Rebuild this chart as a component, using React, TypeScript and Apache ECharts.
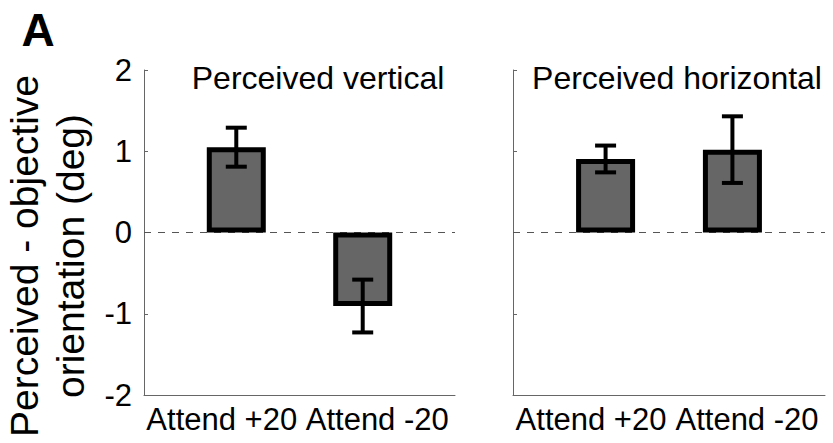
import React, { useEffect, useRef } from "react";
import * as echarts from "echarts";

const categories = ["Attend +20", "Attend -20"];
const panelTitles = ["Perceived vertical", "Perceived horizontal"];
const barPositions = [1, 2];
const verticalMeans = [1.05, -0.905];
const verticalErrors = [0.24, 0.325];
const horizontalMeans = [0.905, 1.02];
const horizontalErrors = [0.165, 0.41];
const yMin = -2;
const yMax = 2;
const yInterval = 1;
const yAxisTitle = "Perceived - objective\norientation (deg)";
const panelLabel = "A";

const FONT = "'Liberation Sans', Arial, Helvetica, sans-serif";

export default function App() {
  const ref = useRef<HTMLDivElement>(null);

  useEffect(() => {
    if (!ref.current) return;
    const chart = echarts.init(ref.current, undefined, { renderer: "svg" });

    const grids = [
      { left: 144, width: 311, top: 70, height: 325 },
      { left: 513, width: 312, top: 70, height: 325 },
    ];
    const panels = [
      { means: verticalMeans, errs: verticalErrors },
      { means: horizontalMeans, errs: horizontalErrors },
    ];

    const xAxis: any[] = [];
    const yAxis: any[] = [];
    const series: any[] = [];

    grids.forEach((g, i) => {
      xAxis.push({
        type: "category",
        gridIndex: i,
        data: categories,
        boundaryGap: true,
        axisLine: { show: true, onZero: false, lineStyle: { color: "#666", width: 1 } },
        axisTick: { show: false },
        axisLabel: { color: "#000", fontSize: 31, fontFamily: FONT, margin: 9, interval: 0 },
        splitLine: { show: false },
      });
      xAxis.push({
        type: "value",
        gridIndex: i,
        min: 0.27,
        max: 2.73,
        show: false,
        splitLine: { show: false },
      });
      yAxis.push({
        type: "value",
        gridIndex: i,
        min: yMin,
        max: yMax,
        interval: yInterval,
        axisLine: { show: true, lineStyle: { color: "#666", width: 1 } },
        axisTick: { show: true, inside: true, length: 4, lineStyle: { color: "#666" } },
        axisLabel: {
          show: i === 0,
          color: "#000",
          fontSize: 31,
          fontFamily: FONT,
          margin: 12,
        },
        splitLine: { show: false },
      });

      const p = panels[i];
      series.push({
        type: "bar",
        xAxisIndex: i * 2 + 1,
        yAxisIndex: i,
        barWidth: 59,
        data: barPositions.map((x, k) => [x, p.means[k]]),
        itemStyle: { color: "#666666", borderColor: "#000", borderWidth: 5 },
        markLine: {
          silent: true,
          symbol: ["none", "none"],
          label: { show: false },
          lineStyle: { color: "#555", type: [7, 7], width: 1.2 },
          data: [{ yAxis: 0 }],
          z: 1,
        },
        z: 2,
      });
      series.push({
        type: "custom",
        xAxisIndex: i * 2 + 1,
        yAxisIndex: i,
        z: 5,
        data: barPositions.map((x, k) => [x, p.means[k] - p.errs[k], p.means[k] + p.errs[k]]),
        renderItem: (params: any, api: any) => {
          const x = api.value(0);
          const lo = api.coord([x, api.value(1)]);
          const hi = api.coord([x, api.value(2)]);
          const hw = 10.5;
          const style = { stroke: "#000", lineWidth: 4, fill: "none" };
          return {
            type: "group",
            children: [
              { type: "line", shape: { x1: lo[0], y1: lo[1], x2: hi[0], y2: hi[1] }, style },
              { type: "line", shape: { x1: lo[0] - hw, y1: lo[1], x2: lo[0] + hw, y2: lo[1] }, style },
              { type: "line", shape: { x1: hi[0] - hw, y1: hi[1], x2: hi[0] + hw, y2: hi[1] }, style },
            ],
          };
        },
      });
    });

    chart.setOption({
      animation: false,
      backgroundColor: "#fff",
      grid: grids.map((g) => ({ ...g, containLabel: false })),
      xAxis,
      yAxis,
      series,
      graphic: [
        {
          type: "text",
          x: 38,
          y: 30,
          style: {
            text: panelLabel,
            font: `bold 46px ${FONT}`,
            fill: "#000",
            textAlign: "center",
            textVerticalAlign: "middle",
          },
        },
        {
          type: "text",
          x: 318,
          y: 77.5,
          style: {
            text: panelTitles[0],
            font: `32px ${FONT}`,
            fill: "#000",
            textAlign: "center",
            textVerticalAlign: "middle",
          },
        },
        {
          type: "text",
          x: 677,
          y: 77.5,
          style: {
            text: panelTitles[1],
            font: `32px ${FONT}`,
            fill: "#000",
            textAlign: "center",
            textVerticalAlign: "middle",
          },
        },
        {
          type: "text",
          x: 47,
          y: 256,
          rotation: Math.PI / 2,
          style: {
            text: yAxisTitle,
            font: `39px ${FONT}`,
            lineHeight: 46,
            fill: "#000",
            textAlign: "center",
            textVerticalAlign: "middle",
          },
        },
      ],
    });

    return () => chart.dispose();
  }, []);

  return (
    <div
      ref={ref}
      style={{ position: "fixed", left: 0, top: 0, width: 833, height: 443, background: "#fff" }}
    />
  );
}
